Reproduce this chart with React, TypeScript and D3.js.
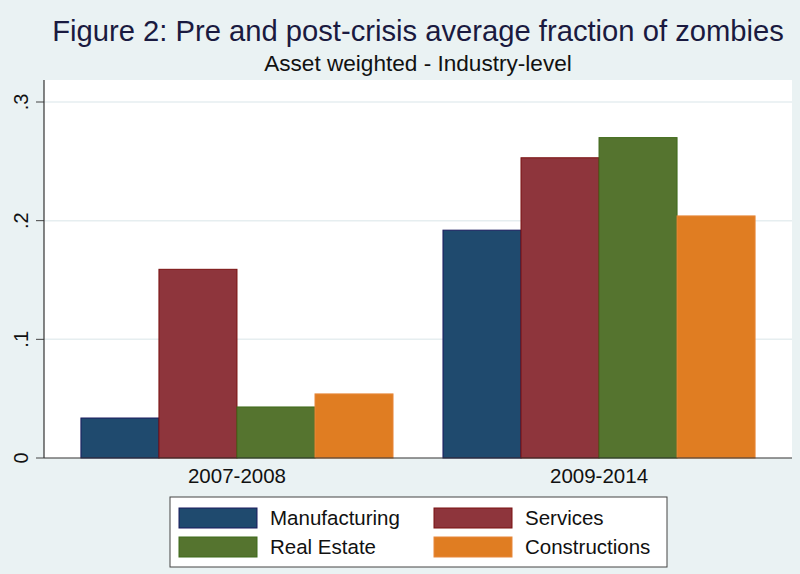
import React from "react";
import * as d3 from "d3";

const periods = ["2007-2008", "2009-2014"];
const industries = ["Manufacturing", "Services", "Real Estate", "Constructions"];
const manufacturing = [0.0337, 0.192];
const services = [0.159, 0.253];
const realEstate = [0.043, 0.270];
const constructions = [0.054, 0.204];
const yTicks = [0, 0.1, 0.2, 0.3];
const yTickLabels = ["0", ".1", ".2", ".3"];
const colors = ["#1F4A6E", "#8E353C", "#55742F", "#E07D22"];
const strokes = ["#1a1a5e", "#7a1010", "#3f6a1a", "#e8883a"];

const title = "Figure 2: Pre and post-crisis average fraction of zombies";
const subtitle = "Asset weighted - Industry-level";

export default function App() {
  const W = 800, H = 574;
  const left = 44, right = 792, top = 80, bottom = 458;
  const series = [manufacturing, services, realEstate, constructions];
  const y = d3.scaleLinear().domain([0, 0.3]).range([bottom, 102]);
  const x0 = d3.scaleBand().domain(periods).range([left, right]).paddingInner(0.138).paddingOuter(0.102);
  const x1 = d3.scaleBand().domain(industries).range([0, x0.bandwidth()]);
  const font = "'Liberation Sans', Arial, sans-serif";
  return (
    <svg width={W} height={H} style={{ position: "absolute", left: 0, top: 0, display: "block" }}>
      <rect x={0} y={0} width={W} height={H} fill="#EAF2F3" />
      <rect x={left} y={top} width={right - left} height={bottom - top} fill="#ffffff" />
      {yTicks.map((t, i) => (
        <g key={i}>
          {i > 0 && <line x1={left} x2={right} y1={y(t)} y2={y(t)} stroke="#E6EEF0" strokeWidth={1.5} />}
          <line x1={left - 8} x2={left} y1={y(t)} y2={y(t)} stroke="#444" strokeWidth={1} />
          <text transform={`translate(${left - 16},${y(t)}) rotate(-90)`} textAnchor="middle" fontFamily={font} fontSize={20} fill="#111">{yTickLabels[i]}</text>
        </g>
      ))}
      {periods.map((p, pi) => (
        <g key={p} transform={`translate(${x0(p)},0)`}>
          {industries.map((ind, si) => (
            <rect key={ind} x={x1(ind)} y={y(series[si][pi])} width={x1.bandwidth()} height={bottom - y(series[si][pi])}
              fill={colors[si]} stroke={strokes[si]} strokeWidth={1} />
          ))}
          <text x={x0.bandwidth() / 2} y={bottom + 25} textAnchor="middle" fontFamily={font} fontSize={20.5} fill="#111">{p}</text>
        </g>
      ))}
      <line x1={left} x2={left} y1={top} y2={bottom} stroke="#333" strokeWidth={1.2} />
      <line x1={left} x2={right} y1={bottom} y2={bottom} stroke="#333" strokeWidth={1.2} />
      <text x={418} y={41} textAnchor="middle" fontFamily={font} fontSize={29.2} fill="#1a1a40">{title}</text>
      <text x={418} y={71} textAnchor="middle" fontFamily={font} fontSize={22.6} fill="#111">{subtitle}</text>
      <rect x={170} y={497} width={497} height={70} fill="#fff" stroke="#444" strokeWidth={1} />
      {industries.map((ind, i) => {
        const col = i % 2, row = Math.floor(i / 2);
        const sx = col === 0 ? 179 : 434;
        const sy = row === 0 ? 508 : 537;
        return (
          <g key={ind}>
            <rect x={sx} y={sy} width={78} height={20} fill={colors[i]} stroke={strokes[i]} strokeWidth={1} />
            <text x={sx + 91} y={sy + 17} fontFamily={font} fontSize={20.5} fill="#111">{ind}</text>
          </g>
        );
      })}
    </svg>
  );
}
